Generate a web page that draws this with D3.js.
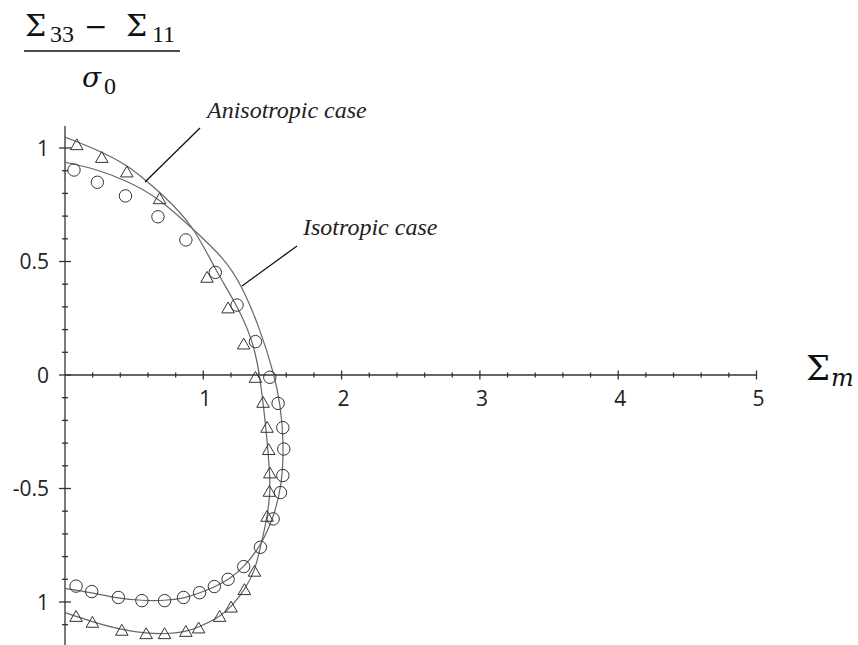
<!DOCTYPE html>
<meta charset="utf-8">
<style>
body { margin: 0; background: #fff; }
svg { display: block; }
.tick-label { font-family: "Open Sans", sans-serif; font-size: 21px; fill: #222; }
.note { font-family: "Liberation Serif", serif; font-style: italic; font-size: 24px; fill: #222; }
.math { fill: #111; }
.curve { fill: none; stroke: #666; stroke-width: 1.2px; }
.marker { fill: none; stroke: #333; stroke-width: 1px; }
.axis line { stroke: #333; stroke-width: 1.3px; }
.pointer { stroke: #111; stroke-width: 1.3px; }
</style>
<body>
<div id="chart"></div>
<script src="https://d3js.org/d3.v7.min.js"></script>
<script>
var width = 858,
    height = 645;

// tick labels as printed (the bottom one has no minus sign in the original)
var xTicks = [1, 2, 3, 4, 5];
var xTickLabels = ['1', '2', '3', '4', '5'];
var yTicks = [1, 0.5, 0, -0.5, -1];
var yTickLabels = ['1', '0.5', '0', '-0.5', '1'];

// yield curves, [Sigma_m, (S33 - S11)/sigma0]
var anisoCurve = [
  [0, 1.048], [0.266, 0.984], [0.447, 0.925], [0.580, 0.860], [0.700, 0.798],
  [0.930, 0.658], [1.087, 0.462], [1.244, 0.308], [1.360, 0.150], [1.408, 0],
  [1.434, -0.132], [1.463, -0.294], [1.481, -0.441], [1.484, -0.514], [1.462, -0.631],
  [1.413, -0.756], [1.372, -0.867], [1.297, -0.947], [1.208, -1.018], [1.123, -1.065],
  [0.966, -1.111], [0.877, -1.131], [0.725, -1.141], [0.587, -1.138], [0.411, -1.123],
  [0.193, -1.087], [0, -1.047]
];

var isoCurve = [
  [0, 0.937], [0.205, 0.911], [0.447, 0.857], [0.688, 0.776], [0.930, 0.640],
  [1.150, 0.515], [1.280, 0.393], [1.413, 0.198], [1.514, 0], [1.558, -0.132],
  [1.582, -0.294], [1.570, -0.485], [1.507, -0.630], [1.413, -0.756], [1.292, -0.847],
  [1.183, -0.903], [1.075, -0.935], [0.978, -0.959], [0.862, -0.984], [0.720, -0.994],
  [0.556, -0.994], [0.386, -0.984], [0.193, -0.959], [0, -0.940]
];

// simulation points
var triangles = [
  [0.085, 1.013], [0.266, 0.957], [0.447, 0.893], [0.684, 0.775], [1.027, 0.429],
  [1.179, 0.294], [1.292, 0.135], [1.377, -0.012], [1.432, -0.122], [1.461, -0.232],
  [1.473, -0.330], [1.481, -0.433], [1.478, -0.514], [1.461, -0.624], [1.370, -0.866],
  [1.297, -0.947], [1.201, -1.024], [1.118, -1.065], [0.966, -1.116], [0.874, -1.131],
  [0.720, -1.141], [0.587, -1.141], [0.411, -1.126], [0.198, -1.091], [0.080, -1.065]
];

var circles = [
  [0.065, 0.903], [0.234, 0.849], [0.437, 0.789], [0.672, 0.697], [0.874, 0.595],
  [1.087, 0.452], [1.244, 0.308], [1.377, 0.147], [1.481, -0.010], [1.541, -0.125],
  [1.575, -0.232], [1.582, -0.326], [1.575, -0.443], [1.558, -0.518], [1.505, -0.634],
  [1.413, -0.759], [1.292, -0.844], [1.179, -0.900], [1.080, -0.932], [0.973, -0.959],
  [0.857, -0.980], [0.720, -0.994], [0.556, -0.994], [0.386, -0.980], [0.193, -0.954],
  [0.080, -0.930]
];

var svg = d3.select('#chart').append('svg')
    .attr('width', width)
    .attr('height', height);

svg.append('rect')
    .attr('width', width)
    .attr('height', height)
    .attr('fill', '#fff');

var x = d3.scaleLinear().domain([0, 5]).range([65, 756.5]);
var y = d3.scaleLinear().domain([-1, 1]).range([602, 148]);

// ---- axes (ticks cross the axis line on both sides) ----
var xAxis = svg.append('g').attr('class', 'axis');
xAxis.append('line')
    .attr('x1', x(0)).attr('x2', x(5))
    .attr('y1', y(0)).attr('y2', y(0));

var xMinor = d3.range(1, 25).map(function(i) { return i * 0.2; })
    .filter(function(v) { return Math.abs(v - Math.round(v)) > 1e-6; });

xAxis.selectAll('line.minor')
    .data(xMinor)
  .enter().append('line')
    .attr('class', 'minor')
    .attr('x1', function(d) { return x(d); })
    .attr('x2', function(d) { return x(d); })
    .attr('y1', y(0) - 2.5)
    .attr('y2', y(0) + 2.5);

xAxis.selectAll('line.major')
    .data(xTicks)
  .enter().append('line')
    .attr('class', 'major')
    .attr('x1', function(d) { return x(d); })
    .attr('x2', function(d) { return x(d); })
    .attr('y1', y(0) - 4.5)
    .attr('y2', y(0) + 4.5);

xAxis.selectAll('text')
    .data(xTicks)
  .enter().append('text')
    .attr('class', 'tick-label')
    .attr('x', function(d) { return x(d) + 2; })
    .attr('y', y(0) + 31)
    .attr('text-anchor', 'middle')
    .text(function(d, i) { return xTickLabels[i]; });

var yAxis = svg.append('g').attr('class', 'axis');
yAxis.append('line')
    .attr('x1', x(0)).attr('x2', x(0))
    .attr('y1', y(1.097)).attr('y2', y(-1.2));

var yMinor = d3.range(-11, 11).map(function(i) { return i / 10; })
    .filter(function(v) { return Math.abs(v * 2 - Math.round(v * 2)) > 1e-6; });

yAxis.selectAll('line.minor')
    .data(yMinor)
  .enter().append('line')
    .attr('class', 'minor')
    .attr('x1', x(0) - 3)
    .attr('x2', x(0) + 3)
    .attr('y1', function(d) { return y(d); })
    .attr('y2', function(d) { return y(d); });

yAxis.selectAll('line.major')
    .data(yTicks)
  .enter().append('line')
    .attr('class', 'major')
    .attr('x1', x(0) - 6)
    .attr('x2', x(0) + 6)
    .attr('y1', function(d) { return y(d); })
    .attr('y2', function(d) { return y(d); });

yAxis.selectAll('text')
    .data(yTicks)
  .enter().append('text')
    .attr('class', 'tick-label')
    .attr('x', x(0) - 16)
    .attr('y', function(d) { return y(d) + 7.5; })
    .attr('text-anchor', 'end')
    .text(function(d, i) { return yTickLabels[i]; });

// ---- curves (B-spline through the traced points) ----
var line = d3.line()
    .x(function(d) { return x(d[0]); })
    .y(function(d) { return y(d[1]); })
    .curve(d3.curveBasis);

svg.append('path').attr('class', 'curve').attr('d', line(anisoCurve));
svg.append('path').attr('class', 'curve').attr('d', line(isoCurve));

// ---- markers ----
svg.selectAll('circle.marker')
    .data(circles)
  .enter().append('circle')
    .attr('class', 'marker')
    .attr('cx', function(d) { return x(d[0]); })
    .attr('cy', function(d) { return y(d[1]); })
    .attr('r', 6.2);

var tri = d3.symbol().type(d3.symbolTriangle).size(68);
svg.selectAll('path.marker')
    .data(triangles)
  .enter().append('path')
    .attr('class', 'marker')
    .attr('d', tri)
    .attr('transform', function(d) {
      return 'translate(' + x(d[0]) + ',' + (y(d[1]) + 1) + ')';
    });

// ---- annotations ----
svg.append('line').attr('class', 'pointer')
    .attr('x1', 200).attr('y1', 128).attr('x2', 145).attr('y2', 182);
svg.append('text').attr('class', 'note')
    .attr('x', 207).attr('y', 118)
    .text('Anisotropic case');

svg.append('line').attr('class', 'pointer')
    .attr('x1', 297).attr('y1', 246).attr('x2', 242).attr('y2', 286);
svg.append('text').attr('class', 'note')
    .attr('x', 303).attr('y', 235)
    .text('Isotropic case');

// ---- y label: (Sigma33 - Sigma11) / sigma0 ----
var serif = '"DejaVu Serif", serif',
    times = '"Liberation Serif", serif';
var ylab = svg.append('g').attr('class', 'math');
ylab.append('text').attr('x', 25).attr('y', 36)
    .attr('font-family', serif).attr('font-size', 30).text('\u03A3');
ylab.append('text').attr('x', 50).attr('y', 42)
    .attr('font-family', times).attr('font-size', 24).text('33');
ylab.append('text').attr('x', 84).attr('y', 36)
    .attr('font-family', serif).attr('font-size', 28).text('\u2212');
ylab.append('text').attr('x', 126).attr('y', 36)
    .attr('font-family', serif).attr('font-size', 30).text('\u03A3');
ylab.append('text').attr('x', 152).attr('y', 42)
    .attr('font-family', times).attr('font-size', 24).text('11');
ylab.append('line')
    .attr('x1', 24).attr('x2', 180).attr('y1', 51).attr('y2', 51)
    .attr('stroke', '#111').attr('stroke-width', 1.6);
ylab.append('text').attr('x', 82).attr('y', 87)
    .attr('font-family', serif).attr('font-size', 28)
    .attr('font-style', 'italic').text('\u03C3');
ylab.append('text').attr('x', 104).attr('y', 94)
    .attr('font-family', times).attr('font-size', 24).text('0');

// ---- x label: Sigma_m ----
var xlab = svg.append('g').attr('class', 'math');
xlab.append('text').attr('x', 806).attr('y', 380)
    .attr('font-family', serif).attr('font-size', 34).text('\u03A3');
xlab.append('text').attr('x', 831).attr('y', 386)
    .attr('font-family', serif).attr('font-size', 24)
    .attr('font-style', 'italic').text('m');
</script>
